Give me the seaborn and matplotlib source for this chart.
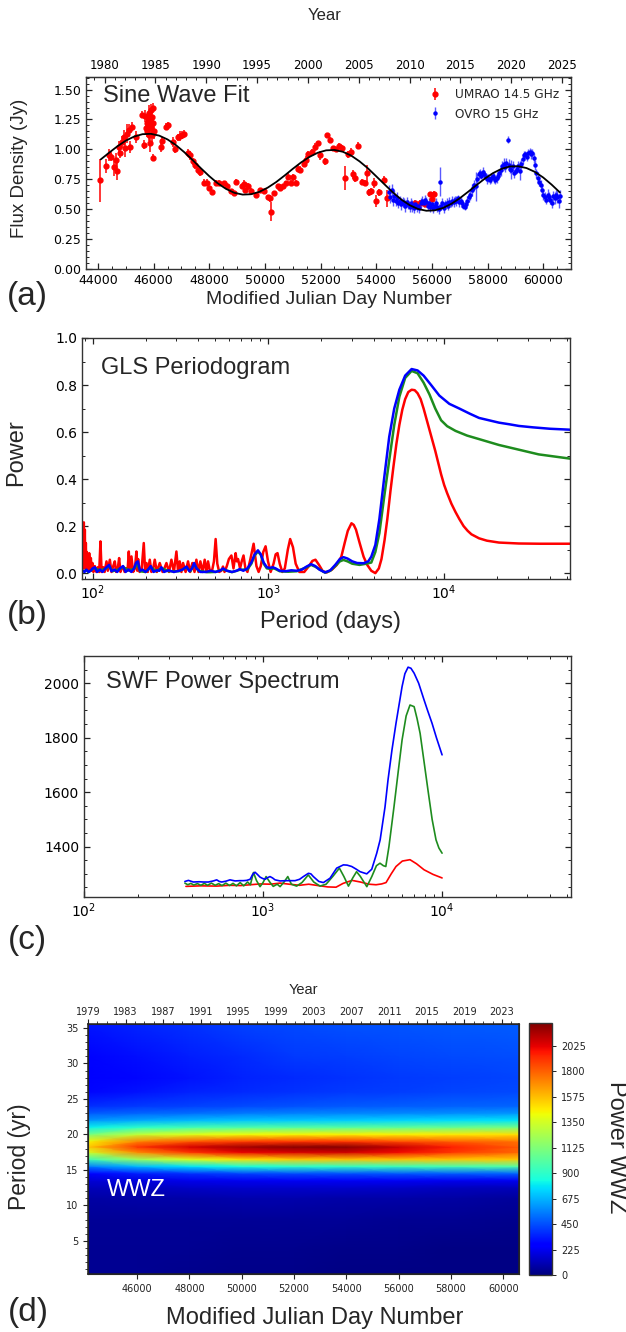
import numpy as np
import pandas as pd
import matplotlib
matplotlib.use("Agg")
import matplotlib.pyplot as plt
from matplotlib.ticker import MultipleLocator, LogLocator, NullFormatter, FixedLocator
import seaborn as sns

# ------------------------------------------------------------------ data
# (a) light curve
umrao_mjd = [44070, 44290, 44400, 44475, 44575, 44650, 44700, 44750, 44800, 44860, 44935, 44965,
             45050, 45105, 45160, 45220, 45365, 45580, 45650, 45700, 45730, 45760, 45780, 45800,
             45820, 45835, 45850, 45865, 45880, 45900, 45915, 45930, 45945, 45960, 45975, 45985,
             46010, 46270, 46300, 46440, 46515, 46690, 46760, 46875, 46950, 47020, 47090, 47235,
             47305, 47420, 47500, 47595, 47665, 47810, 47910, 47995, 48095, 48240, 48355, 48530,
             48645, 48790, 48890, 48960, 49175, 49250, 49275, 49390, 49505, 49680, 49820, 49965,
             50110, 50180, 50225, 50325, 50470, 50540, 50640, 50755, 50830, 50930, 51015, 51115,
             51190, 51260, 51405, 51475, 51550, 51690, 51810, 51905, 51980, 52150, 52240, 52340,
             52455, 52555, 52655, 52770, 52870, 52985, 53085, 53160, 53245, 53345, 53490, 53600,
             53670, 53730, 53820, 53920, 53990, 54090, 54280, 54395, 55385, 55575, 55745, 55930,
             56000, 56075]
umrao_flux = [0.74, 0.86, 0.95, 0.94, 0.85, 0.91, 0.82, 1.02, 0.97, 1.06, 1.10, 1.01,
              1.13, 1.16, 1.02, 1.19, 1.10, 1.29, 1.04, 1.28, 1.18, 1.22, 1.15, 1.25,
              1.30, 1.12, 1.20, 1.05, 1.24, 1.33, 1.18, 1.27, 1.12, 1.35, 1.22, 0.93,
              1.15, 1.02, 1.07, 1.19, 1.20, 1.06, 1.00, 1.10, 1.11, 1.12, 1.13, 0.97,
              0.95, 0.90, 0.87, 0.83, 0.81, 0.72, 0.72, 0.675, 0.64, 0.72, 0.72, 0.715,
              0.695, 0.65, 0.635, 0.73, 0.69, 0.71, 0.66, 0.69, 0.655, 0.62, 0.66, 0.65,
              0.60, 0.59, 0.48, 0.635, 0.69, 0.68, 0.69, 0.715, 0.77, 0.72, 0.765, 0.72,
              0.84, 0.83, 0.88, 0.915, 0.96, 0.98, 1.02, 1.05, 0.95, 0.90, 1.12, 1.08,
              1.01, 1.00, 1.03, 1.01, 0.76, 0.96, 0.98, 0.79, 0.76, 1.03, 0.73, 0.72,
              0.80, 0.64, 0.65, 0.72, 0.57, 0.64, 0.745, 0.59, 0.555, 0.555, 0.545, 0.625,
              0.585, 0.63]
umrao_err = [0.18, 0.06, 0.05, 0.04, 0.07, 0.06, 0.08, 0.05, 0.04, 0.05, 0.06, 0.07,
             0.08, 0.05, 0.05, 0.04, 0.05, 0.03, 0.04, 0.05, 0.06, 0.06, 0.05, 0.06,
             0.07, 0.05, 0.06, 0.07, 0.06, 0.05, 0.06, 0.05, 0.06, 0.04, 0.05, 0.03,
             0.06, 0.04, 0.03, 0.03, 0.03, 0.04, 0.03, 0.03, 0.04, 0.03, 0.03, 0.03,
             0.04, 0.03, 0.03, 0.03, 0.03, 0.03, 0.03, 0.02, 0.02, 0.02, 0.02, 0.02,
             0.02, 0.02, 0.02, 0.02, 0.02, 0.03, 0.02, 0.03, 0.02, 0.02, 0.02, 0.02,
             0.02, 0.03, 0.08, 0.02, 0.02, 0.03, 0.02, 0.02, 0.03, 0.02, 0.03, 0.02,
             0.03, 0.03, 0.02, 0.03, 0.03, 0.02, 0.03, 0.02, 0.04, 0.03, 0.02, 0.02,
             0.02, 0.02, 0.02, 0.03, 0.10, 0.03, 0.03, 0.04, 0.03, 0.03, 0.02, 0.02,
             0.07, 0.03, 0.03, 0.04, 0.05, 0.03, 0.03, 0.07, 0.02, 0.02, 0.02, 0.02,
             0.02, 0.02]

ovro_mjd = [54450, 54500, 54550, 54600, 54650, 54700, 54750, 54800, 54850, 54900, 54950, 55000,
            55050, 55100, 55150, 55200, 55250, 55300, 55350, 55400, 55450, 55500, 55550, 55600,
            55650, 55700, 55750, 55800, 55850, 55900, 55950, 56000, 56050, 56100, 56150, 56200,
            56250, 56300, 56330, 56380, 56430, 56480, 56530, 56580, 56630, 56680, 56730, 56780,
            56830, 56880, 56930, 56980, 57030, 57080, 57130, 57180, 57230, 57280, 57330, 57380,
            57430, 57480, 57530, 57580, 57630, 57680, 57730, 57780, 57830, 57880, 57930, 57980,
            58030, 58080, 58130, 58180, 58230, 58280, 58330, 58380, 58430, 58480, 58530, 58580,
            58630, 58680, 58720, 58760, 58810, 58860, 58910, 58960, 59010, 59060, 59110, 59160,
            59210, 59260, 59310, 59360, 59410, 59460, 59510, 59560, 59610, 59660, 59710, 59760,
            59810, 59860, 59910, 59960, 60010, 60060, 60110, 60160, 60210, 60260, 60310, 60360,
            60410, 60460, 60510, 60560, 60600]
ovro_flux = [0.64, 0.60, 0.66, 0.58, 0.61, 0.57, 0.59, 0.55, 0.57, 0.54, 0.56, 0.55,
             0.53, 0.56, 0.54, 0.52, 0.55, 0.53, 0.51, 0.54, 0.52, 0.53, 0.51, 0.55,
             0.57, 0.55, 0.58, 0.56, 0.53, 0.55, 0.52, 0.54, 0.51, 0.53, 0.55, 0.52,
             0.50, 0.73, 0.53, 0.55, 0.51, 0.54, 0.55, 0.53, 0.56, 0.55, 0.57, 0.56,
             0.58, 0.57, 0.59, 0.56, 0.57, 0.55, 0.53, 0.52, 0.54, 0.57, 0.60, 0.62,
             0.66, 0.68, 0.70, 0.69, 0.75, 0.79, 0.80, 0.78, 0.81, 0.79, 0.77, 0.75,
             0.76, 0.74, 0.76, 0.78, 0.76, 0.74, 0.76, 0.78, 0.80, 0.83, 0.86, 0.88,
             0.85, 0.89, 1.08, 0.87, 0.84, 0.83, 0.86, 0.80, 0.82, 0.84, 0.86, 0.82,
             0.88, 0.92, 0.95, 0.96, 0.94, 0.97, 0.98, 0.96, 0.97, 0.93, 0.87, 0.80,
             0.76, 0.73, 0.70, 0.66, 0.62, 0.60, 0.58, 0.62, 0.60, 0.58, 0.55, 0.61,
             0.59, 0.62, 0.60, 0.57, 0.61]
ovro_err = [0.06, 0.05, 0.05, 0.05, 0.05, 0.04, 0.05, 0.04, 0.04, 0.05, 0.04, 0.04,
            0.05, 0.04, 0.04, 0.04, 0.04, 0.05, 0.04, 0.04, 0.04, 0.03, 0.04, 0.04,
            0.04, 0.03, 0.04, 0.04, 0.04, 0.04, 0.04, 0.04, 0.04, 0.04, 0.04, 0.04,
            0.04, 0.12, 0.04, 0.04, 0.04, 0.04, 0.04, 0.04, 0.04, 0.03, 0.04, 0.04,
            0.03, 0.04, 0.03, 0.04, 0.03, 0.03, 0.03, 0.03, 0.03, 0.04, 0.04, 0.04,
            0.05, 0.04, 0.04, 0.12, 0.04, 0.04, 0.04, 0.03, 0.04, 0.04, 0.03, 0.04,
            0.03, 0.03, 0.04, 0.03, 0.04, 0.03, 0.04, 0.04, 0.04, 0.05, 0.04, 0.05,
            0.04, 0.04, 0.03, 0.05, 0.04, 0.08, 0.04, 0.04, 0.03, 0.04, 0.04, 0.08,
            0.04, 0.04, 0.04, 0.03, 0.04, 0.03, 0.03, 0.04, 0.03, 0.04, 0.04, 0.04,
            0.05, 0.04, 0.04, 0.04, 0.04, 0.04, 0.04, 0.05, 0.04, 0.04, 0.04, 0.04,
            0.05, 0.04, 0.05, 0.06, 0.05]

fit_mjd = list(range(44100, 60601, 300))
fit_flux = [0.916, 0.972, 1.026, 1.073, 1.107, 1.127, 1.130, 1.115, 1.083, 1.036, 0.977, 0.911,
            0.842, 0.776, 0.717, 0.670, 0.637, 0.622, 0.625, 0.645, 0.680, 0.726, 0.780, 0.837,
            0.891, 0.937, 0.972, 0.992, 0.995, 0.980, 0.948, 0.900, 0.842, 0.775, 0.707, 0.640,
            0.581, 0.534, 0.502, 0.487, 0.490, 0.510, 0.545, 0.591, 0.645, 0.701, 0.755, 0.802,
            0.837, 0.857, 0.859, 0.844, 0.812, 0.765, 0.706, 0.640]

# (b) GLS periodogram
gls_red_period = [87.5, 87.8, 88.3, 89.1, 89.6, 90.3, 90.8, 91.5, 92.1, 92.6, 93.1, 94.0, 94.8, 95.6,
                  96.5, 97.7, 98.6, 99.8, 101, 102.9, 105, 107, 109, 110.8, 112.5, 115, 117, 119.9,
                  122, 125.3, 128, 131, 133.7, 136, 139, 141.5, 144, 147, 149.1, 152, 155, 158,
                  160.6, 163, 166.3, 170, 174, 177.5, 179.5, 181.4, 185, 190, 195.4, 199, 202.4,
                  206, 211.4, 216, 221, 225.7, 232, 240.9, 250, 256, 263, 272, 280.7, 290, 299.7,
                  306, 313, 320, 327, 338, 349, 359, 369.4, 380, 389.3, 400, 410.2, 422, 434.1,
                  444, 453.5, 466, 478, 490, 501, 512, 525, 540, 551.6, 563, 580, 596, 616, 633,
                  651, 661, 672, 690, 705, 722, 740, 760, 790, 824, 855, 880, 905, 935, 964, 995,
                  1030, 1070, 1100, 1127, 1160, 1200, 1240, 1290, 1330, 1380, 1430, 1500, 1600,
                  1700, 1780, 1853, 1940, 2040, 2150, 2300, 2450, 2600, 2720, 2830, 2970, 3060,
                  3150, 3300, 3480, 3650, 3850, 4060, 4250, 4400, 4580, 4750, 4950, 5140, 5350,
                  5560, 5780, 6000, 6250, 6530, 6800, 7060, 7350, 7640, 7940, 8250, 8570, 8900,
                  9250, 9610, 10000, 10400, 11000, 11600, 12200, 12900, 13600, 14300, 15800,
                  17500, 20500, 26600, 35000, 52000]
gls_red_power = [0.02, 0.12, 0.02, 0.216, 0.03, 0.185, 0.02, 0.128, 0.015, 0.09, 0.02, 0.07, 0.01, 0.085,
                 0.01, 0.064, 0.01, 0.043, 0.005, 0.03, 0.005, 0.025, 0.005, 0.135, 0.005, 0.025, 0.005, 0.05,
                 0.01, 0.057, 0.005, 0.03, 0.05, 0.005, 0.02, 0.064, 0.005, 0.025, 0.028, 0.005, 0.02, 0.01,
                 0.092, 0.01, 0.071, 0.005, 0.02, 0.092, 0.01, 0.06, 0.005, 0.015, 0.128, 0.005, 0.043,
                 0.005, 0.057, 0.005, 0.02, 0.057, 0.005, 0.043, 0.005, 0.02, 0.043, 0.005, 0.057, 0.005, 0.092,
                 0.01, 0.05, 0.005, 0.043, 0.005, 0.05, 0.005, 0.043, 0.005, 0.057, 0.005, 0.05, 0.005, 0.057,
                 0.005, 0.05, 0.005, 0.01, 0.05, 0.145, 0.04, 0.005, 0.01, 0.028, 0.005, 0.03, 0.06, 0.075, 0.02,
                 0.085, 0.05, 0.06, 0.02, 0.05, 0.075, 0.02, 0.005, 0.06, 0.125, 0.03, 0.005, 0.03, 0.09, 0.114, 0.05,
                 0.005, 0.04, 0.08, 0.085, 0.04, 0.005, 0.02, 0.1, 0.145, 0.11, 0.04, 0.005, 0.005,
                 0.03, 0.052, 0.057, 0.035, 0.008, 0.003, 0.015, 0.035, 0.07, 0.13, 0.18, 0.212, 0.205,
                 0.185, 0.13, 0.07, 0.035, 0.01, 0.0, 0.02, 0.06, 0.14, 0.23, 0.35, 0.45, 0.55,
                 0.63, 0.695, 0.74, 0.77, 0.78, 0.778, 0.765, 0.74, 0.70, 0.655, 0.61, 0.565, 0.52,
                 0.47, 0.42, 0.375, 0.34, 0.295, 0.26, 0.23, 0.2, 0.18, 0.165, 0.148,
                 0.138, 0.13, 0.126, 0.125, 0.125]

gls_green_period = [87.5, 92, 95, 100, 103, 110, 118, 124, 130, 143, 149, 160, 172, 179, 186, 200, 214,
                    230, 246, 270, 310, 342, 360, 378, 400, 450, 500, 552, 620, 686, 760, 800, 835, 872,
                    905, 940, 980, 1030, 1080, 1160, 1300, 1450, 1650, 1750, 1850, 2100, 2250, 2400,
                    2550, 2673, 2820, 3000, 3300, 3600, 3850, 4060, 4280, 4550, 4870, 5200, 5560, 6000,
                    6530, 7060, 7640, 8250, 8900, 9610, 10400, 11600, 13500, 15800, 20500, 26600,
                    34500, 52000]
gls_green_power = [0.008, 0.012, 0.004, 0.018, 0.02, 0.012, 0.018, 0.03, 0.008, 0.018, 0.026, 0.012, 0.018,
                   0.04, 0.008, 0.005, 0.026, 0.008, 0.022, 0.008, 0.008, 0.024, 0.008, 0.038, 0.01, 0.004,
                   0.005, 0.016, 0.004, 0.014, 0.016, 0.04, 0.075, 0.092, 0.078, 0.04, 0.02, 0.018, 0.02,
                   0.008, 0.006, 0.008, 0.025, 0.035, 0.027, 0.002, 0.01, 0.03, 0.05, 0.056, 0.05, 0.04,
                   0.035, 0.04, 0.045, 0.09, 0.17, 0.32, 0.48, 0.63, 0.75, 0.83, 0.86, 0.85, 0.81, 0.76,
                   0.70, 0.65, 0.625, 0.605, 0.585, 0.57, 0.545, 0.525, 0.505, 0.487]

gls_blue_period = [87.5, 90, 92, 95, 98, 100, 103, 106, 110, 114, 118, 124, 128, 133, 138, 143, 149, 154,
                   160, 166, 172, 177, 181, 186, 192, 200, 207, 214, 222, 232, 240, 246, 255, 270, 290,
                   310, 325, 342, 355, 368, 378, 390, 410, 440, 470, 500, 530, 552, 580, 620, 660, 686,
                   720, 760, 800, 835, 872, 905, 940, 980, 1020, 1060, 1100, 1160, 1250, 1350, 1450,
                   1550, 1650, 1750, 1850, 1950, 2100, 2250, 2400, 2550, 2673, 2820, 3000, 3200, 3480,
                   3700, 3850, 4060, 4280, 4550, 4870, 5200, 5560, 6000, 6530, 7060, 7640, 8430, 9390,
                   10700, 12200, 14000, 15800, 18000, 20500, 23500, 26600, 32000, 40000, 52000]
gls_blue_power = [0.01, 0.005, 0.015, 0.005, 0.012, 0.02, 0.025, 0.005, 0.015, 0.005, 0.02, 0.035, 0.008,
                  0.015, 0.005, 0.02, 0.03, 0.005, 0.015, 0.005, 0.02, 0.045, 0.05, 0.01, 0.015, 0.005,
                  0.015, 0.03, 0.005, 0.012, 0.01, 0.025, 0.005, 0.012, 0.005, 0.01, 0.015, 0.028, 0.008,
                  0.02, 0.043, 0.02, 0.005, 0.005, 0.01, 0.005, 0.01, 0.02, 0.01, 0.005, 0.01, 0.017,
                  0.01, 0.02, 0.045, 0.08, 0.097, 0.08, 0.045, 0.025, 0.022, 0.025, 0.02, 0.01, 0.008,
                  0.012, 0.01, 0.015, 0.028, 0.038, 0.03, 0.015, 0.003, 0.012, 0.035, 0.06, 0.068, 0.062,
                  0.05, 0.043, 0.042, 0.05, 0.07, 0.12, 0.23, 0.40, 0.58, 0.70, 0.78, 0.84, 0.868, 0.862,
                  0.84, 0.80, 0.755, 0.72, 0.70, 0.678, 0.66, 0.65, 0.64, 0.633, 0.626, 0.62, 0.614, 0.61]

# (c) SWF power spectrum
swf_blue_period = [366, 383, 408, 440, 464, 495, 528, 551, 570, 588, 620, 654, 698, 740, 777, 810, 847,
                   875, 902, 930, 962, 995, 1026, 1060, 1094, 1130, 1167, 1245, 1356, 1510, 1600, 1680,
                   1792, 1850, 1910, 2050, 2174, 2367, 2578, 2811, 2950, 3128, 3300, 3483, 3796, 4048,
                   4317, 4510, 4800, 4990, 5250, 5530, 5980, 6200, 6460, 6700, 6980, 7400, 7930, 8300,
                   8790, 9300, 10000]
swf_blue_power = [1272, 1276, 1270, 1271, 1270, 1270, 1274, 1278, 1272, 1270, 1273, 1278, 1274, 1275, 1275,
                  1276, 1280, 1298, 1306, 1298, 1288, 1283, 1280, 1286, 1290, 1285, 1278, 1274, 1275, 1275,
                  1280, 1290, 1302, 1300, 1290, 1272, 1268, 1284, 1321, 1333, 1332, 1327, 1318, 1308, 1300,
                  1317, 1376, 1425, 1545, 1645, 1755, 1853, 1988, 2035, 2059, 2055, 2037, 2000, 1939, 1900,
                  1853, 1800, 1737]

swf_green_period = [366, 380, 395, 410, 430, 450, 470, 490, 515, 540, 565, 590, 620, 650, 680, 710, 745,
                    780, 820, 850, 884, 920, 962, 1000, 1040, 1090, 1140, 1200, 1245, 1310, 1375, 1440,
                    1540, 1650, 1790, 1920, 2080, 2250, 2450, 2670, 2830, 3000, 3170, 3330, 3500, 3800,
                    4050, 4300, 4500, 4700, 4850, 5050, 5390, 5700, 5980, 6300, 6620, 6980, 7250, 7540,
                    7900, 8340, 8800, 9250, 9600, 10000]
swf_green_power = [1266, 1260, 1265, 1259, 1264, 1258, 1265, 1258, 1266, 1258, 1264, 1257, 1266, 1257, 1265,
                   1256, 1268, 1256, 1270, 1260, 1305, 1275, 1253, 1268, 1290, 1270, 1254, 1262, 1253, 1270,
                   1290, 1262, 1255, 1268, 1296, 1270, 1255, 1262, 1290, 1321, 1290, 1255, 1285, 1308, 1290,
                   1253, 1290, 1330, 1339, 1330, 1327, 1400, 1547, 1680, 1792, 1880, 1920, 1914, 1870, 1816,
                   1720, 1608, 1500, 1425, 1395, 1376]

swf_red_period = [371, 450, 550, 650, 750, 850, 962, 1100, 1245, 1400, 1600, 1800, 2080, 2300, 2557, 2800,
                  3142, 3500, 3900, 4275, 4600, 4865, 5200, 5530, 6000, 6620, 7200, 7930, 8900, 10000]
swf_red_power = [1254, 1256, 1255, 1258, 1257, 1260, 1263, 1262, 1266, 1262, 1258, 1262, 1256, 1252, 1251,
                 1265, 1276, 1270, 1262, 1260, 1263, 1268, 1300, 1327, 1347, 1352, 1337, 1315, 1298, 1285]

# (d) WWZ map
wwz_mjd = [44100, 46000, 48000, 50000, 52000, 54000, 56000, 58000, 60620]
wwz_period = [0.3, 4, 8, 11, 12.5, 13.5, 14.5, 15.5, 16.5, 17.5, 18.25, 19, 20, 21, 22, 23, 24, 26, 28,
              31, 35.6]
wwz_power = [
    [40, 35, 30, 25, 20, 15, 12, 10, 10],
    [40, 38, 35, 32, 30, 25, 20, 15, 10],
    [50, 50, 50, 50, 50, 45, 40, 35, 30],
    [70, 80, 85, 90, 90, 85, 80, 70, 60],
    [120, 130, 140, 150, 150, 150, 140, 130, 120],
    [170, 190, 210, 225, 230, 230, 230, 225, 220],
    [280, 340, 390, 430, 450, 460, 470, 480, 500],
    [550, 680, 780, 860, 900, 920, 940, 970, 1000],
    [950, 1200, 1380, 1500, 1550, 1570, 1570, 1560, 1550],
    [1350, 1700, 1900, 2020, 2060, 2070, 2000, 1900, 1780],
    [1550, 1900, 2060, 2150, 2200, 2200, 2080, 1950, 1800],
    [1450, 1720, 1820, 1880, 1900, 1900, 1850, 1800, 1750],
    [1100, 1300, 1380, 1430, 1450, 1460, 1460, 1470, 1500],
    [800, 900, 960, 990, 1000, 1010, 1030, 1060, 1100],
    [600, 650, 680, 710, 720, 730, 740, 760, 780],
    [470, 500, 520, 540, 560, 570, 575, 590, 600],
    [380, 400, 420, 440, 460, 470, 480, 490, 500],
    [290, 320, 350, 370, 390, 400, 410, 430, 440],
    [260, 290, 320, 350, 370, 385, 400, 415, 430],
    [280, 310, 340, 370, 400, 415, 430, 440, 450],
    [330, 360, 390, 420, 440, 455, 465, 475, 480],
]
cbar_ticks = [0, 225, 450, 675, 900, 1125, 1350, 1575, 1800, 2025]
year_ticks_a = [1980, 1985, 1990, 1995, 2000, 2005, 2010, 2015, 2020, 2025]
year_ticks_d = [1979, 1983, 1987, 1991, 1995, 1999, 2003, 2007, 2011, 2015, 2019, 2023]

# ------------------------------------------------------------------ style
sns.set_style("ticks")
plt.rcParams['font.family'] = ['DejaVu Sans']
plt.rcParams['mathtext.default'] = 'regular'
LAB = 'Liberation Sans'
W, H = 626, 1332

fig = plt.figure(figsize=(W / 100, H / 100), dpi=100)


def box(l, t, r, b):
    return [l / W, 1 - b / H, (r - l) / W, (b - t) / H]


def ft(x, y, s, **kw):
    kw.setdefault('ha', 'center')
    kw.setdefault('va', 'center')
    fig.text(x / W, 1 - y / H, s, **kw)


def in_ticks(ax, top=True):
    ax.tick_params(which='both', direction='in', top=top, right=True, bottom=True, left=True,
                   colors='#222222', labelcolor='black')
    ax.tick_params(which='major', length=4.5, width=0.9)
    ax.tick_params(which='minor', length=2.3, width=0.7)
    for s in ax.spines.values():
        s.set_color('#333333')
        s.set_linewidth(1.0)


# ------------------------------------------------------------------ (a)
axA = fig.add_axes(box(86, 77, 571, 269))
axA.errorbar(umrao_mjd, umrao_flux, yerr=umrao_err, fmt='o', color='#ff0000', ms=3.5,
             elinewidth=1.1, capsize=0, label='UMRAO 14.5 GHz', zorder=2)
axA.errorbar(ovro_mjd, ovro_flux, yerr=ovro_err, fmt='o', color='#0000ff', ms=2.2,
             ecolor=(0.35, 0.35, 1.0), elinewidth=1.0, capsize=0, label='OVRO 15 GHz', zorder=2)
sns.lineplot(x=fit_mjd, y=fit_flux, ax=axA, color='black', linewidth=1.3, estimator=None,
             sort=False, legend=False, zorder=3)
axA.set_xlim(43570, 61000)
axA.set_ylim(0, 1.605)
axA.xaxis.set_major_locator(MultipleLocator(2000))
axA.xaxis.set_minor_locator(MultipleLocator(500))
axA.yaxis.set_major_locator(MultipleLocator(0.25))
axA.yaxis.set_minor_locator(MultipleLocator(0.05))
axA.tick_params(labelsize=9)
in_ticks(axA, top=False)
axA.set_xlabel('')
axA.set_ylabel('')
secA = axA.secondary_xaxis('top', functions=(lambda m: 1858.877 + np.asarray(m) / 365.25,
                                              lambda y: (np.asarray(y) - 1858.877) * 365.25))
secA.set_xticks(year_ticks_a)
secA.xaxis.set_minor_locator(MultipleLocator(1))
secA.tick_params(which='both', direction='in', labelsize=8.5, colors='#222222', labelcolor='black')
secA.tick_params(which='major', length=4.5, width=0.9)
secA.tick_params(which='minor', length=2.3, width=0.7)
axA.legend(loc='upper right', frameon=False, fontsize=8.7, handlelength=1.0, handletextpad=1.2,
           labelspacing=0.55, borderaxespad=0.35, bbox_to_anchor=(0.995, 0.99))
axA.text((103 - 86) / 485, 0.9, 'Sine Wave Fit', transform=axA.transAxes, fontsize=17,
         family=LAB, ha='left', va='center')
ft(325, 16, 'Year', fontsize=12, family=LAB)
ft(19.5, 168, 'Flux Density (Jy)', fontsize=13.5, family=LAB, rotation=90)
ft(329, 300, 'Modified Julian Day Number', fontsize=14, family=LAB)
ft(27, 297, '(a)', fontsize=24, family=LAB)

# ------------------------------------------------------------------ (b)
axB = fig.add_axes(box(82, 338, 570, 579))
for per, pw, col in [(gls_red_period, gls_red_power, '#ff0000'),
                     (gls_green_period, gls_green_power, '#1e8c1e'),
                     (gls_blue_period, gls_blue_power, '#0000ff')]:
    sns.lineplot(x=per, y=pw, ax=axB, color=col, linewidth=1.8, estimator=None, sort=False,
                 legend=False)
axB.set_xscale('log')
axB.set_xlim(87, 52000)
axB.set_ylim(-0.025, 1.0)
axB.yaxis.set_major_locator(MultipleLocator(0.2))
axB.yaxis.set_minor_locator(MultipleLocator(0.1))
axB.xaxis.set_major_locator(LogLocator(base=10))
axB.xaxis.set_minor_locator(LogLocator(base=10, subs=np.arange(2, 10)))
axB.xaxis.set_minor_formatter(NullFormatter())
axB.tick_params(labelsize=10)
in_ticks(axB)
axB.set_xlabel('')
axB.set_ylabel('')
axB.text(0.0395, 0.874, 'GLS Periodogram', transform=axB.transAxes, fontsize=17, family=LAB,
         ha='left', va='center')
ft(16, 453, 'Power', fontsize=17, family=LAB, rotation=90)
ft(330, 622, 'Period (days)', fontsize=17, family=LAB)
ft(27, 615, '(b)', fontsize=24, family=LAB)

# ------------------------------------------------------------------ (c)
axC = fig.add_axes(box(84, 656, 571, 897))
for per, pw, col in [(swf_red_period, swf_red_power, '#ff0000'),
                     (swf_green_period, swf_green_power, '#1e8c1e'),
                     (swf_blue_period, swf_blue_power, '#0000ff')]:
    sns.lineplot(x=per, y=pw, ax=axC, color=col, linewidth=1.2, estimator=None, sort=False,
                 legend=False)
axC.set_xscale('log')
axC.set_xlim(100, 52500)
axC.set_ylim(1215, 2100)
axC.yaxis.set_major_locator(FixedLocator([1400, 1600, 1800, 2000]))
axC.yaxis.set_minor_locator(MultipleLocator(50))
axC.xaxis.set_major_locator(LogLocator(base=10))
axC.xaxis.set_minor_locator(LogLocator(base=10, subs=np.arange(2, 10)))
axC.xaxis.set_minor_formatter(NullFormatter())
axC.tick_params(labelsize=10)
in_ticks(axC)
axC.set_xlabel('')
axC.set_ylabel('')
axC.text(22 / 487, 1 - 26 / 241, 'SWF Power Spectrum', transform=axC.transAxes, fontsize=17,
         family=LAB, ha='left', va='center')
ft(27, 941, '(c)', fontsize=24, family=LAB)

# ------------------------------------------------------------------ (d)
axD = fig.add_axes(box(88, 1024, 519, 1274))
Z = np.array(wwz_power, dtype=float)
mesh = axD.pcolormesh(wwz_mjd, wwz_period, Z, shading='gouraud', cmap='jet', vmin=0, vmax=2226,
                      rasterized=True)
axD.set_xlim(44118, 60604)
axD.set_ylim(0.32, 35.56)
axD.set_xticks([46000, 48000, 50000, 52000, 54000, 56000, 58000, 60000])
axD.yaxis.set_major_locator(FixedLocator([5, 10, 15, 20, 25, 30, 35]))
axD.yaxis.set_minor_locator(MultipleLocator(1))
axD.tick_params(which='both', direction='out', top=False, right=False, colors='#222222',
                labelcolor='#222222', labelsize=7)
axD.tick_params(which='major', length=3.5, width=0.8)
axD.tick_params(which='minor', length=2, width=0.6)
for s in axD.spines.values():
    s.set_color('#222222')
    s.set_linewidth(1.1)
axD.set_xlabel('')
axD.set_ylabel('')
topD = axD.twiny()
topD.set_xlim(1979, 2024.8)
topD.set_xticks(year_ticks_d)
topD.xaxis.set_minor_locator(MultipleLocator(1))
topD.tick_params(which='both', direction='out', labelsize=7, colors='#222222', labelcolor='#222222')
topD.tick_params(which='major', length=3.5, width=0.8, pad=1.5)
topD.tick_params(which='minor', length=2, width=0.6)
topD.grid(False)
axD.grid(False)
axD.text(19 / 431, 1 - 166 / 250, 'WWZ', transform=axD.transAxes, fontsize=17, family=LAB,
         color='white', ha='left', va='center')

cb = fig.colorbar(mesh, cax=fig.add_axes(box(529, 1023, 552, 1275)), ticks=cbar_ticks)
cb.ax.tick_params(direction='out', length=3, width=0.7, labelsize=7, colors='#222222',
                  labelcolor='#222222')
cb.outline.set_linewidth(1.0)
cb.outline.set_edgecolor('#333333')

ft(303, 990, 'Year', fontsize=10.5, family=LAB)
ft(20, 1157, 'Period (yr)', fontsize=16.5, family=LAB, rotation=90)
ft(315, 1318, 'Modified Julian Day Number', fontsize=17, family=LAB)
ft(616, 1147, 'Power WWZ', fontsize=17, family=LAB, rotation=270)
ft(28, 1313, '(d)', fontsize=24, family=LAB)

fig.savefig('out.png', dpi=100)
